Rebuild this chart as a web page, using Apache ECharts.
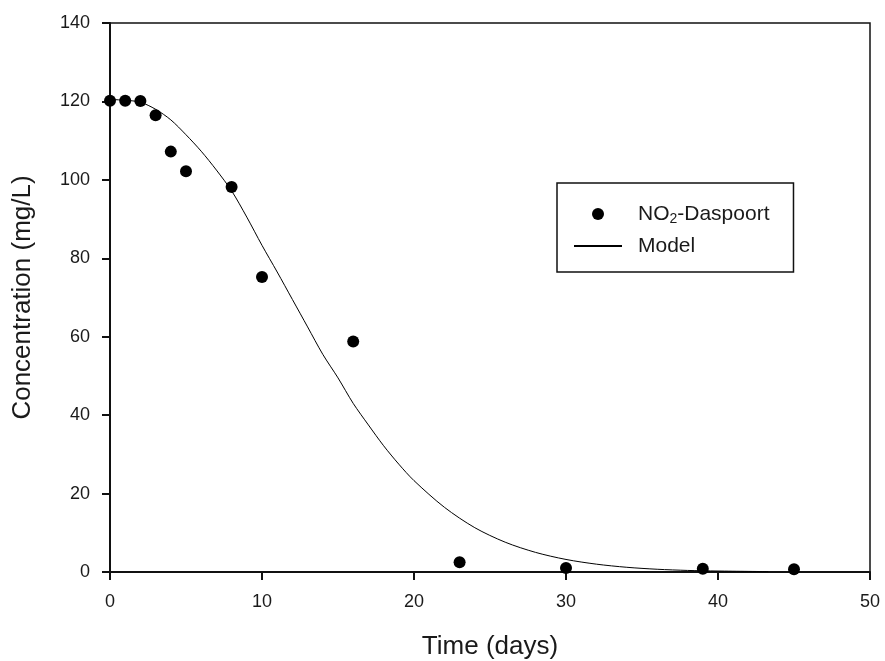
<!DOCTYPE html>
<html>
<head>
<meta charset="utf-8">
<script src="https://cdn.jsdelivr.net/npm/echarts@6/dist/echarts.min.js"></script>
<style>
html,body{margin:0;padding:0;background:#fff;}
#chart{width:885px;height:661px;}
</style>
</head>
<body>
<div id="chart"></div>
<script>
// Observed data (NO2 - Daspoort)
var obsTime = [0, 1, 2, 3, 4, 5, 8, 10, 16, 23, 30, 39, 45];
var obsConc = [120.2, 120.2, 120.1, 116.5, 107.2, 102.2, 98.2, 75.2, 58.8, 2.5, 1.0, 0.8, 0.7];

// Model curve
var modelTime = [0, 1, 2, 3, 4, 5, 6, 7, 8, 9, 10, 11, 12, 13, 14, 15, 16, 17, 18, 19, 20, 22, 24, 26, 28, 30, 32, 34, 36, 38, 40, 43.3];
var modelConc = [120.5, 120.3, 119.8, 118.0, 115.3, 111.5, 107.3, 102.5, 97.2, 90.5, 83.3, 76.5, 69.5, 62.5, 55.5, 49.5, 43.0, 37.5, 32.2, 27.5, 23.3, 16.5, 11.3, 7.6, 5.0, 3.2, 2.0, 1.2, 0.7, 0.4, 0.25, 0.1];

var xTicks = {min: 0, max: 50, interval: 10};
var yTicks = {min: 0, max: 140, interval: 20};

var FONT = '"Liberation Sans", Arial, sans-serif';
var chart = echarts.init(document.getElementById('chart'), null, {renderer: 'canvas'});

function pairs(a, b) { return a.map(function (v, i) { return [v, b[i]]; }); }

var option = {
  animation: false,
  backgroundColor: '#ffffff',
  grid: {left: 110, right: 15, top: 23, bottom: 89, containLabel: false, outerBoundsMode: 'none',
         show: true, borderColor: '#111', borderWidth: 1.5, backgroundColor: 'transparent'},
  legend: {
    orient: 'vertical',
    left: 557, top: 183,
    padding: [19, 24, 15, 16],
    borderColor: '#111', borderWidth: 1.5,
    itemWidth: 48, itemHeight: 12, itemGap: 9,
    textStyle: {fontFamily: FONT, fontSize: 21, color: '#1a1a1a', lineHeight: 22,
      rich: {
        a0: {fontFamily: FONT, fontSize: 21, color: '#1a1a1a', padding: [0, 0, 0, 11], lineHeight: 22},
        a: {fontFamily: FONT, fontSize: 21, color: '#1a1a1a', lineHeight: 22},
        sub: {fontFamily: FONT, fontSize: 14, color: '#1a1a1a', padding: [10, 0, 0, 0], lineHeight: 22}
      }
    },
    formatter: function (name) {
      if (name === 'NO2-Daspoort') return '{a0|NO}{sub|2}{a|-Daspoort}';
      return '{a0|' + name + '}';
    },
    data: [
      {name: 'NO2-Daspoort'},
      {name: 'Model', itemStyle: {opacity: 0}}
    ]
  },
  xAxis: {
    type: 'value', min: xTicks.min, max: xTicks.max, interval: xTicks.interval,
    name: 'Time (days)', nameLocation: 'middle', nameGap: 62,
    nameTextStyle: {fontFamily: FONT, fontSize: 26, color: '#1a1a1a'},
    axisLine: {show: true, onZero: false, lineStyle: {color: '#111', width: 2}},
    axisTick: {show: true, inside: false, length: 8, lineStyle: {color: '#111', width: 2}},
    axisLabel: {fontFamily: FONT, fontSize: 18, color: '#1a1a1a', margin: 21},
    splitLine: {show: false}
  },
  yAxis: {
    type: 'value', min: yTicks.min, max: yTicks.max, interval: yTicks.interval,
    name: 'Concentration (mg/L)', nameLocation: 'middle', nameGap: 74,
    nameTextStyle: {fontFamily: FONT, fontSize: 26, color: '#1a1a1a'},
    axisLine: {show: true, onZero: false, lineStyle: {color: '#111', width: 2}},
    axisTick: {show: true, inside: false, length: 8, lineStyle: {color: '#111', width: 2}},
    axisLabel: {fontFamily: FONT, fontSize: 18, color: '#1a1a1a', margin: 20},
    splitLine: {show: false}
  },
  series: [
    {
      name: 'NO2-Daspoort', type: 'scatter',
      data: pairs(obsTime, obsConc),
      symbol: 'circle', symbolSize: 12,
      itemStyle: {color: '#000', opacity: 1},
      z: 3
    },
    {
      name: 'Model', type: 'line',
      data: pairs(modelTime, modelConc),
      smooth: 0.3, showSymbol: false, symbol: 'none',
      lineStyle: {color: '#000', width: 1},
      itemStyle: {color: '#000'},
      z: 2
    }
  ]
};
chart.setOption(option);
</script>
</body>
</html>
